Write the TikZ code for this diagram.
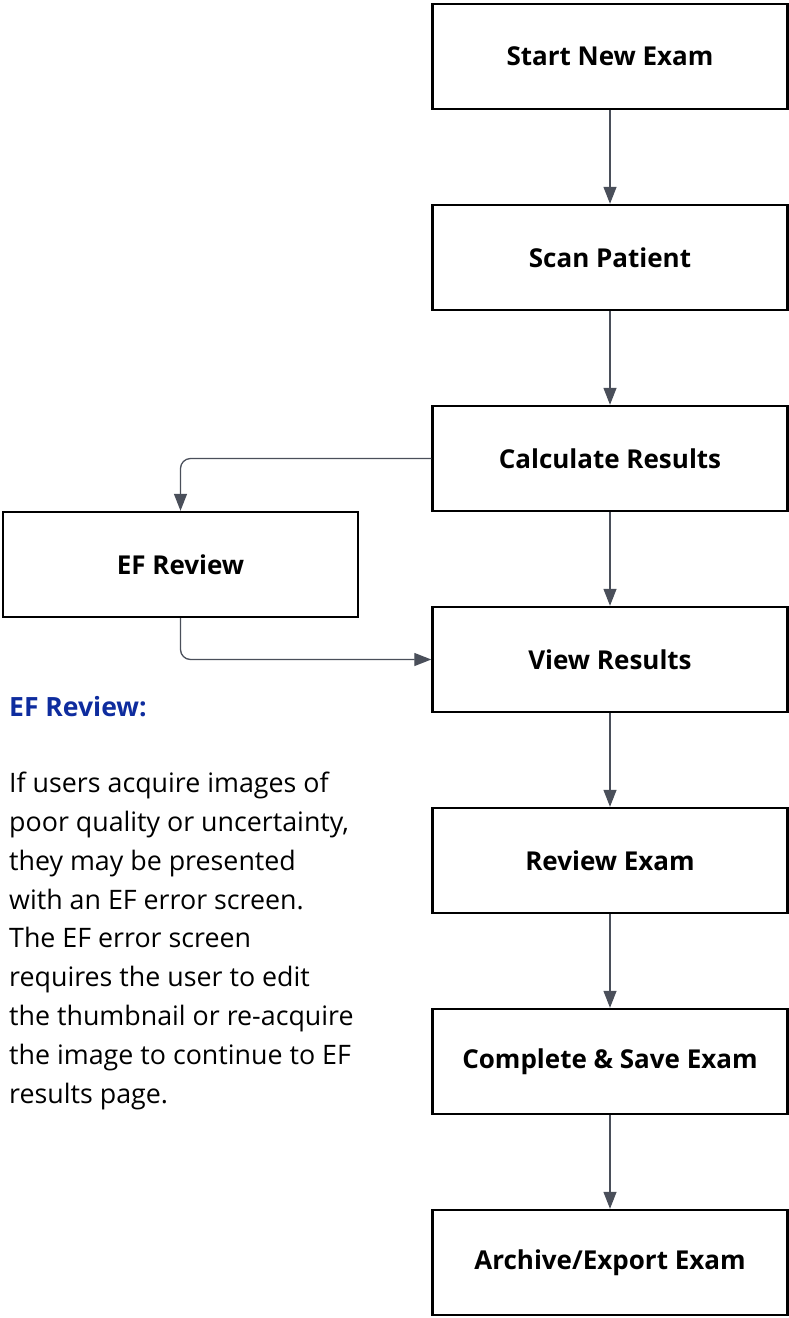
\documentclass[tikz,border=0pt]{standalone}
\usepackage{fontspec}
\setmainfont{Open Sans}
\usetikzlibrary{arrows.meta}
\definecolor{linegray}{RGB}{74,79,90}
\definecolor{headblue}{RGB}{14,44,158}
\begin{document}
\begin{tikzpicture}[x=1pt,y=-1pt,
    stepbox/.style={draw=black,line width=2.4pt,fill=white,minimum width=355pt,
      minimum height=105pt,inner sep=0pt,font=\fontsize{26}{30}\selectfont\bfseries},
    flow/.style={draw=linegray,line width=1.3pt,rounded corners=10pt,
      -{Triangle[length=17pt,width=13pt]}}]
  \useasboundingbox (0,0) rectangle (789,1318);

  \node[stepbox] (start) at (610,56.5) {Start New Exam};
  \node[stepbox] (scan) at (610,257.5) {Scan Patient};
  \node[stepbox] (calc) at (610,458.5) {Calculate Results};
  \node[stepbox] (view) at (610,659.5) {View Results};
  \node[stepbox] (review) at (610,860.5) {Review Exam};
  \node[stepbox] (save) at (610,1061.5) {Complete \& Save Exam};
  \node[stepbox] (archive) at (610,1262.5) {Archive/Export Exam};
  \node[stepbox] (efr) at (180.5,564.5) {EF Review};

  \draw[flow] (start) -- (scan);
  \draw[flow] (scan) -- (calc);
  \draw[flow] (calc) -- (view);
  \draw[flow] (view) -- (review);
  \draw[flow] (review) -- (save);
  \draw[flow] (save) -- (archive);
  \draw[flow] (calc.west) -| (efr.north);
  \draw[flow] (efr.south) |- (view.west);

  % side note
  \node[anchor=west,text=headblue,inner sep=0pt,
    font=\fontsize{26.5}{30}\selectfont\bfseries] (nothead) at (9,707) {EF Review:};
  \node[anchor=north west,align=left,inner sep=0pt,
    font=\fontsize{26.8}{38.8}\selectfont] (notebody) at (9,772) {If users acquire images of\\
    poor quality or uncertainty,\\ they may be presented\\ with an EF error screen.\\
    The EF error screen\\ requires the user to edit\\ the thumbnail or re-acquire\\
    the image to continue to EF\\ results page.};
\end{tikzpicture}
\end{document}
